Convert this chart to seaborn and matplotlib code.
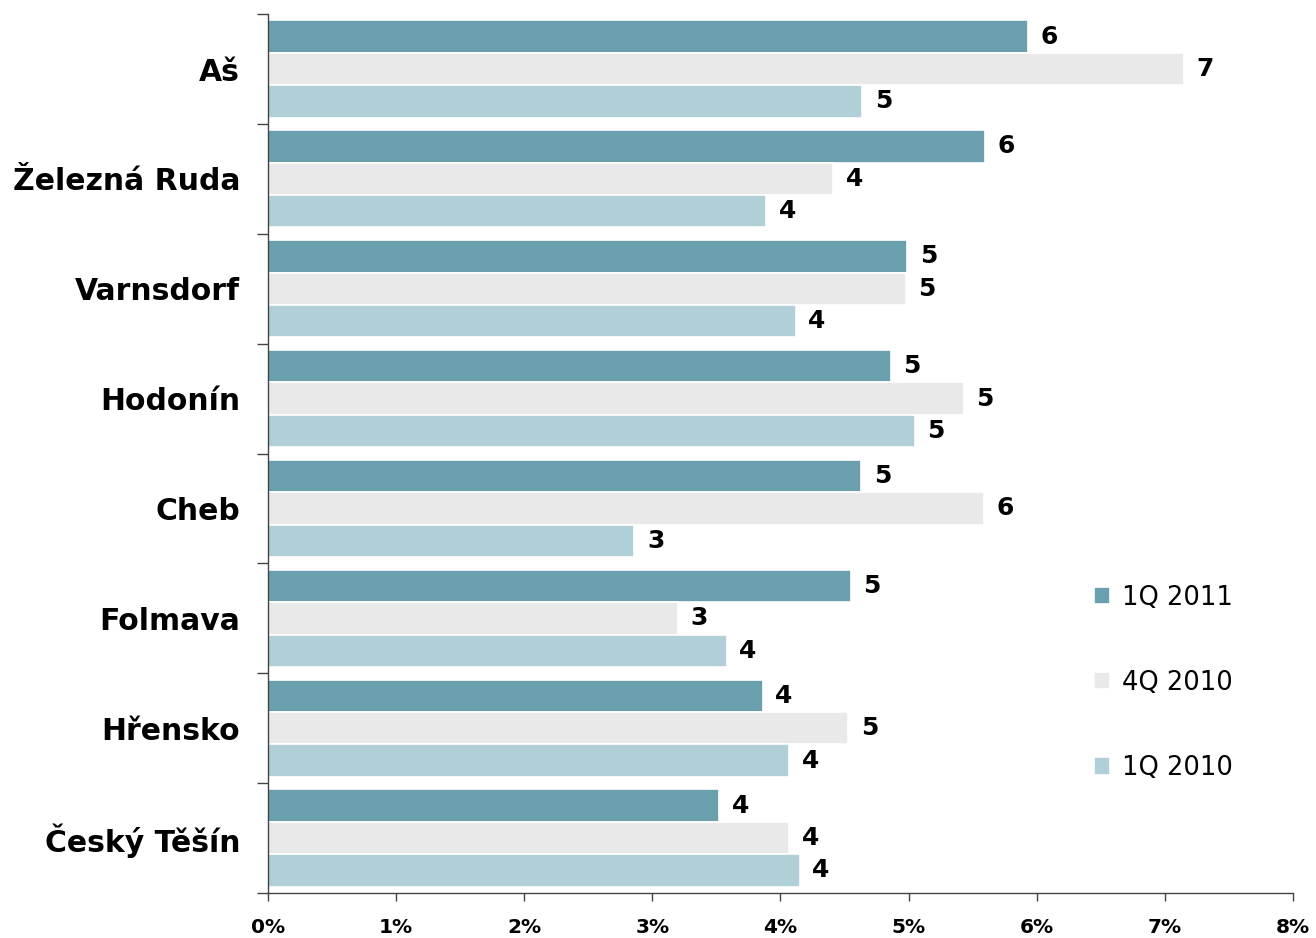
import numpy as np
import pandas as pd
import seaborn as sns
import matplotlib.pyplot as plt

# data
places = ["Aš", "Železná Ruda", "Varnsdorf", "Hodonín", "Cheb", "Folmava", "Hřensko", "Český Těšín"]
periods = ["1Q 2011", "4Q 2010", "1Q 2010"]
q1_2011 = [5.93, 5.60, 4.99, 4.86, 4.63, 4.55, 3.86, 3.52]
q4_2010 = [7.15, 4.41, 4.98, 5.43, 5.59, 3.20, 4.53, 4.07]
q1_2010 = [4.64, 3.89, 4.12, 5.05, 2.86, 3.58, 4.07, 4.15]
colors = ["#6a9fad", "#e9e9e9", "#b1cfd6"]

df = pd.DataFrame({
    "place": places * 3,
    "period": [p for p in periods for _ in places],
    "value": q1_2011 + q4_2010 + q1_2010,
})

sns.set_style("white")
plt.rcParams["font.family"] = ["DejaVu Sans"]
plt.rcParams["text.color"] = "black"
plt.rcParams["xtick.color"] = "black"
plt.rcParams["ytick.color"] = "black"

fig = plt.figure(figsize=(13.16, 9.38), dpi=100)
ax = fig.add_axes([0.2036, 0.048, 0.7789, 0.937])

sns.barplot(data=df, y="place", x="value", hue="period", order=places,
            hue_order=periods, palette=colors, orient="h", width=0.885,
            edgecolor="white", linewidth=1.2, saturation=1, ax=ax)

# value labels, rounded like the original
for cont in ax.containers:
    vals = cont.datavalues
    ax.bar_label(cont, labels=[f"{v:.0f}" for v in vals], padding=9,
                 fontsize=18, fontweight="bold", color="black")

ax.set_xlim(0, 8)
ax.set_ylim(len(places) - 0.5, -0.5)
ax.set_xticks(np.arange(0, 9, 1))
ax.set_xticklabels([f"{i}%" for i in range(9)], fontsize=14.5, fontweight="bold")
ax.set_xlabel("")
ax.set_ylabel("")

ax.set_yticks(range(len(places)))
ax.set_yticklabels(places, fontsize=21.5, fontweight="bold")
ax.set_yticks(np.arange(-0.5, len(places), 1), minor=True)
ax.tick_params(axis="y", which="major", length=0, pad=20)
ax.tick_params(axis="y", which="minor", length=8, width=1, color="#444444", left=True)
ax.tick_params(axis="x", which="major", length=6, width=1, color="#444444",
               bottom=True, pad=12)

for side in ["top", "right"]:
    ax.spines[side].set_visible(False)
for side in ["left", "bottom"]:
    ax.spines[side].set_color("#444444")
    ax.spines[side].set_linewidth(1)

handles, labels = ax.get_legend_handles_labels()
leg = ax.legend(handles, labels, loc="center left", bbox_to_anchor=(0.783, 0.239),
                frameon=False, fontsize=18.5, handlelength=0.65, handleheight=0.65,
                handletextpad=0.45, labelspacing=2.3)

fig.savefig("out.png", dpi=100)
